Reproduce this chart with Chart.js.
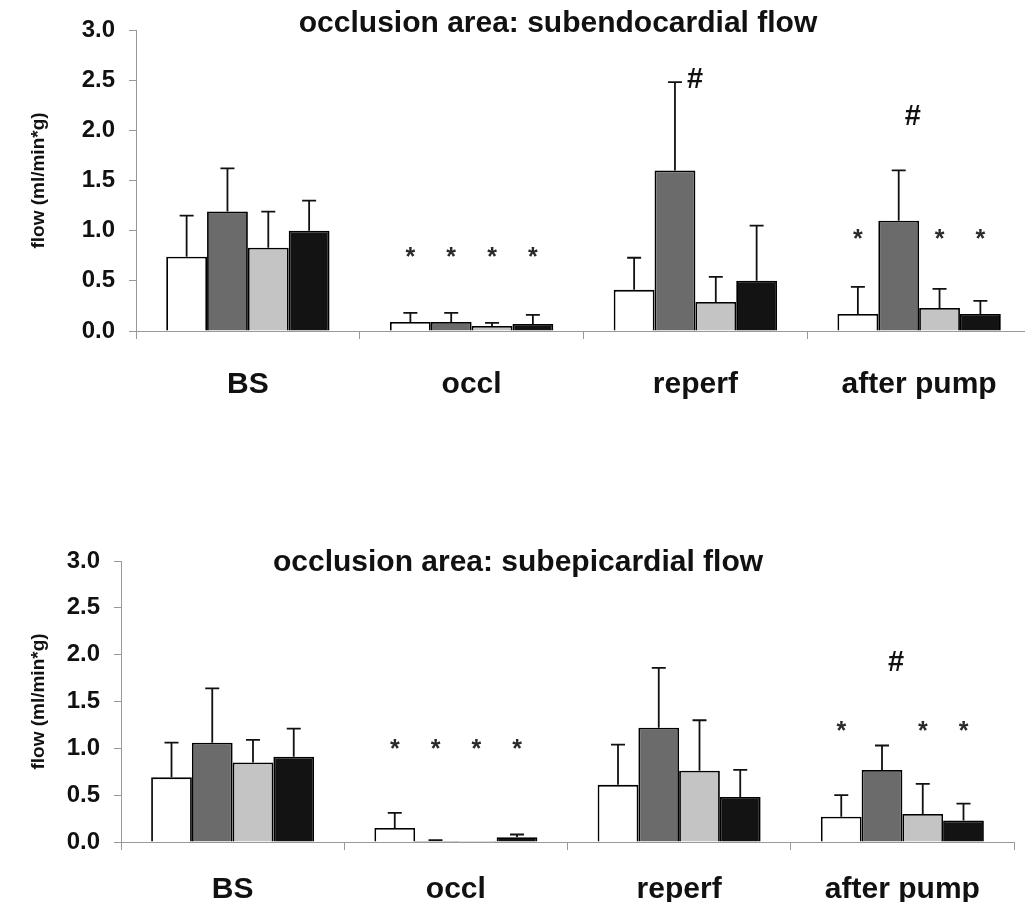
<!DOCTYPE html>
<html>
<head>
<meta charset="utf-8">
<script src="https://cdn.jsdelivr.net/npm/chart.js@4.4.1/dist/chart.umd.min.js"></script>
<style>
	html, body { margin: 0; padding: 0; background: #fff; overflow: hidden; width: 1025px; height: 909px; }
	.box { position: absolute; left: 0; }
	#top-box { top: 0; width: 1035px; height: 420px; }
	#bot-box { top: 460px; width: 1025px; height: 449px; }
</style>
</head>
<body>
<div class="box" id="top-box"><canvas id="endoChart"></canvas></div>
<div class="box" id="bot-box"><canvas id="epiChart"></canvas></div>
<script>
// categories and the four groups (white, dark grey, light grey, black)
const categories = ['BS', 'occl', 'reperf', 'after pump'];
const groupNames = ['group 1', 'group 2', 'group 3', 'group 4'];
const groupColors = ['#ffffff', '#6b6b6b', '#c4c4c4', '#131313'];
const yTicks = [0, 0.5, 1.0, 1.5, 2.0, 2.5, 3.0];

// subendocardial flow: means and SD (upper error bar)
const endoMeans = [
	[0.74, 0.09, 0.41, 0.17],
	[1.19, 0.09, 1.60, 1.10],
	[0.83, 0.05, 0.29, 0.23],
	[1.00, 0.07, 0.50, 0.17]
];
const endoSD = [
	[0.41, 0.09, 0.32, 0.27],
	[0.43, 0.09, 0.88, 0.50],
	[0.36, 0.03, 0.25, 0.19],
	[0.30, 0.09, 0.55, 0.13]
];

// subepicardial flow
const epiMeans = [
	[0.69, 0.15, 0.61, 0.27],
	[1.06, 0.01, 1.22, 0.77],
	[0.85, 0.01, 0.76, 0.30],
	[0.91, 0.05, 0.48, 0.23]
];
const epiSD = [
	[0.37, 0.16, 0.43, 0.23],
	[0.58, 0.01, 0.64, 0.26],
	[0.24, 0.00, 0.54, 0.32],
	[0.30, 0.03, 0.29, 0.18]
];

// significance marks: [category, group, value, symbol]
const endoMarks = [
	[1, 0, 0.79, '*'], [1, 1, 0.79, '*'], [1, 2, 0.79, '*'], [1, 3, 0.79, '*'],
	[2, 1, 2.50, '#'],
	[3, 0, 0.97, '*'], [3, 1, 2.13, '#'], [3, 2, 0.97, '*'], [3, 3, 0.97, '*']
];
const epiMarks = [
	[1, 0, 1.04, '*'], [1, 1, 1.04, '*'], [1, 2, 1.04, '*'], [1, 3, 1.04, '*'],
	[3, 0, 1.24, '*'], [3, 1, 1.91, '#'], [3, 2, 1.24, '*'], [3, 3, 1.24, '*']
];

const FONT = "'Liberation Sans', Arial, sans-serif";

const errorBars = {
	id: 'errorBars',
	afterDatasetsDraw(chart) {
		const ctx = chart.ctx;
		const y = chart.scales.y;
		ctx.save();
		ctx.strokeStyle = '#111';
		ctx.lineWidth = 1.8;
		chart.data.datasets.forEach((ds, i) => {
			chart.getDatasetMeta(i).data.forEach((bar, j) => {
				const sd = ds.sd[j];
				if (!sd) return;
				const yTop = y.getPixelForValue(ds.data[j] + sd);
				ctx.beginPath();
				ctx.moveTo(bar.x, bar.y);
				ctx.lineTo(bar.x, yTop);
				ctx.moveTo(bar.x - 7, yTop);
				ctx.lineTo(bar.x + 7, yTop);
				ctx.stroke();
			});
		});
		ctx.restore();
	}
};

const marksAndTitle = {
	id: 'marksAndTitle',
	afterDraw(chart, args, opts) {
		const ctx = chart.ctx;
		const y = chart.scales.y;
		ctx.save();
		ctx.textAlign = 'center';
		ctx.textBaseline = 'middle';
		opts.marks.forEach(m => {
			const bar = chart.getDatasetMeta(m[1]).data[m[0]];
			const py = y.getPixelForValue(m[2]);
			if (m[3] === '*') {
				ctx.font = `bold 25px ${FONT}`;
				ctx.fillStyle = '#2a2a2a';
				ctx.fillText('*', bar.x, py + 6);
			} else {
				ctx.font = `bold 29px ${FONT}`;
				ctx.fillStyle = '#111';
				// the reperf hash sits beside the error cap
				const dx = m[0] === 2 ? 20 : 14;
				ctx.fillText('#', bar.x + dx, py);
			}
		});
		ctx.font = `bold 30px ${FONT}`;
		ctx.fillStyle = '#111';
		ctx.fillText(opts.title, opts.titleX, opts.titleY);
		ctx.restore();
	}
};

function makeChart(canvasId, means, sds, marks, title, layout) {
	const datasets = groupNames.map((name, i) => ({
		label: name,
		data: means[i],
		sd: sds[i],
		backgroundColor: groupColors[i],
		borderColor: '#000',
		borderWidth: 1.8,
		borderSkipped: 'bottom',
		barPercentage: 1.0,
		categoryPercentage: 0.73
	}));

	return new Chart(document.getElementById(canvasId), {
		type: 'bar',
		data: { labels: categories, datasets },
		options: {
			responsive: true,
			maintainAspectRatio: false,
			animation: false,
			layout: { padding: layout.padding },
			plugins: {
				legend: { display: false },
				tooltip: { enabled: false },
				marksAndTitle: { marks, title, titleX: layout.titleX, titleY: layout.titleY }
			},
			scales: {
				x: {
					grid: { display: true, offset: true, drawOnChartArea: false, drawTicks: true, tickLength: 8, color: '#999' },
					border: { display: true, color: '#999', width: 1 },
					ticks: { color: '#111', font: { family: FONT, size: 30, weight: 'bold' }, padding: layout.xPad },
					afterFit: s => { s.height = layout.xHeight; }
				},
				y: {
					min: 0,
					max: 3,
					afterBuildTicks: s => { s.ticks = yTicks.map(v => ({ value: v })); },
					grid: { drawOnChartArea: false, drawTicks: true, tickLength: 7, color: '#999' },
					border: { display: true, color: '#999', width: 1 },
					ticks: {
						color: '#111',
						padding: 14,
						font: { family: FONT, size: 24, weight: 'bold' },
						callback: v => Number(v).toFixed(1)
					},
					title: {
						display: true,
						text: 'flow (ml/min*g)',
						color: '#111',
						font: { family: FONT, size: 19, weight: 'bold' },
						padding: { top: 27, bottom: 0 }
					},
					afterFit: s => { s.width = layout.yWidth; }
				}
			}
		},
		plugins: [errorBars, marksAndTitle]
	});
}

makeChart('endoChart', endoMeans, endoSD, endoMarks, 'occlusion area: subendocardial flow', {
	padding: { top: 30, left: 0, right: 4, bottom: 9 },
	yWidth: 136, xHeight: 80, xPad: 28,
	titleX: 558, titleY: 24
});

makeChart('epiChart', epiMeans, epiSD, epiMarks, 'occlusion area: subepicardial flow', {
	padding: { top: 101, left: 0, right: 11, bottom: 7 },
	yWidth: 121, xHeight: 60, xPad: 22,
	titleX: 518, titleY: 103
});
</script>
</body>
</html>
